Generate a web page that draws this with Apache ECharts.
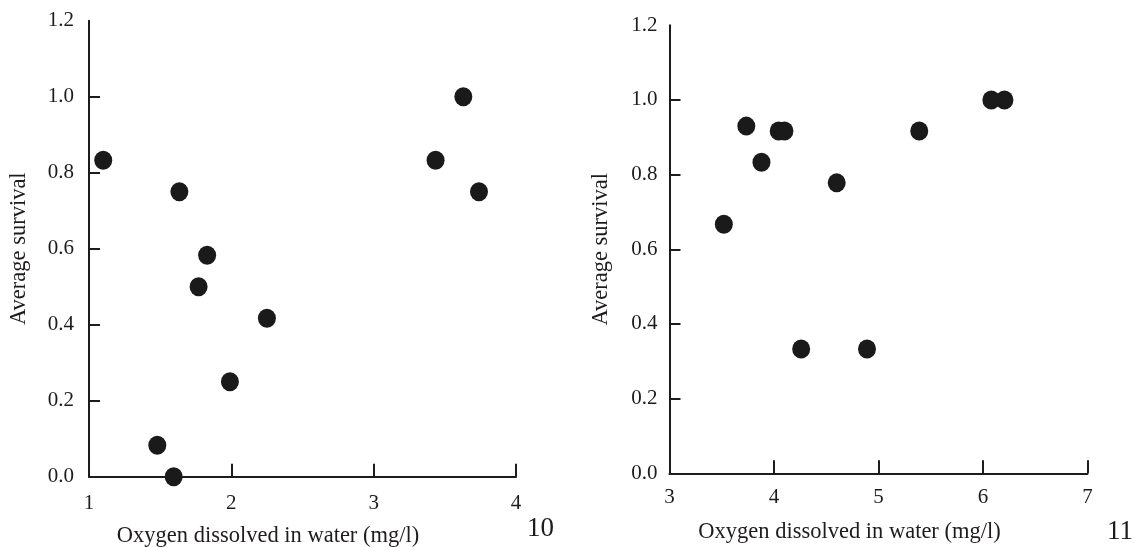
<!DOCTYPE html>
<html>
<head>
<meta charset="utf-8">
<script src="https://cdn.jsdelivr.net/npm/echarts@6/dist/echarts.min.js"></script>
<style>
  html, body { margin: 0; padding: 0; background: #fff; }
  #chart { width: 1135px; height: 547px; }
</style>
</head>
<body>
<div id="chart"></div>
<script>
// panel 10
const leftOxygen   = [1.10, 1.635, 1.83, 1.77, 2.25, 1.99, 1.48, 1.595, 3.435, 3.63, 3.74];
const leftSurvival = [0.833, 0.75, 0.583, 0.50, 0.417, 0.25, 0.083, 0.0, 0.833, 1.0, 0.75];
// panel 11
const rightOxygen   = [3.52, 3.735, 3.88, 4.045, 4.10, 4.60, 4.26, 4.89, 5.39, 6.08, 6.205];
const rightSurvival = [0.667, 0.93, 0.833, 0.917, 0.917, 0.778, 0.333, 0.333, 0.917, 1.0, 1.0];

const leftXRange  = [1, 4];
const rightXRange = [3, 7];
const yRange = [0, 1.2];
const yTickValues = [0.2, 0.4, 0.6, 0.8, 1.0];
const panelLabels = ['10', '11'];
const xTitle = 'Oxygen dissolved in water (mg/l)';
const yTitle = 'Average survival';

const ink = '#1f1b1c';
const serif = '"Liberation Serif", "DejaVu Serif", serif';

function xAxisFor(range, idx, shift, labelMargin, nameGap) {
    return {
        type: 'value',
        gridIndex: idx,
        min: range[0],
        max: range[1],
        interval: 1,
        splitLine: { show: false },
        axisLine: { show: true, onZero: false, lineStyle: { color: ink, width: 2 } },
        axisTick: { show: true, inside: true, length: 13, lineStyle: { color: ink, width: 2 } },
        axisLabel: { color: ink, fontFamily: serif, fontSize: 21, margin: labelMargin },
        name: xTitle,
        nameLocation: 'middle',
        nameGap: nameGap,
        nameTextStyle: { color: ink, fontFamily: serif, fontSize: 22.5, padding: [0, shift, 0, 0] }
    };
}

function yAxisFor(idx, labelMargin, nameGap) {
    return {
        type: 'value',
        gridIndex: idx,
        min: yRange[0],
        max: yRange[1],
        interval: 0.2,
        splitLine: { show: false },
        axisLine: { show: true, onZero: false, lineStyle: { color: ink, width: 2 } },
        axisTick: { show: true, inside: true, length: 11, customValues: yTickValues, lineStyle: { color: ink, width: 2 } },
        axisLabel: {
            color: ink, fontFamily: serif, fontSize: 21, margin: labelMargin,
            formatter: v => v.toFixed(1)
        },
        name: yTitle,
        nameLocation: 'middle',
        nameGap: nameGap,
        nameTextStyle: { color: ink, fontFamily: serif, fontSize: 22.5 }
    };
}

const chart = echarts.init(document.getElementById('chart'), null, { renderer: 'canvas' });
chart.setOption({
    animation: false,
    backgroundColor: '#fff',
    title: [
        { text: panelLabels[0], left: 527, top: 515, padding: 0,
          textStyle: { color: ink, fontFamily: serif, fontSize: 27, fontWeight: 'normal', lineHeight: 27 } },
        { text: panelLabels[1], left: 1107, top: 518, padding: 0,
          textStyle: { color: ink, fontFamily: serif, fontSize: 27, fontWeight: 'normal', lineHeight: 27 } }
    ],
    grid: [
        { left: 89, top: 20.7, width: 427, height: 456, outerBoundsMode: 'none' },
        { left: 669.5, top: 25.3, width: 418, height: 448, outerBoundsMode: 'none' }
    ],
    xAxis: [
        xAxisFor(leftXRange, 0, 69, 16, 48),
        xAxisFor(rightXRange, 1, 58, 14, 47)
    ],
    yAxis: [
        yAxisFor(0, 15, 58),
        yAxisFor(1, 12, 57)
    ],
    series: [
        {
            type: 'scatter',
            xAxisIndex: 0, yAxisIndex: 0,
            symbol: 'circle',
            symbolSize: [18, 19],
            itemStyle: { color: '#1a1a1a', opacity: 1 },
            data: leftOxygen.map((x, i) => [x, leftSurvival[i]])
        },
        {
            type: 'scatter',
            xAxisIndex: 1, yAxisIndex: 1,
            symbol: 'circle',
            symbolSize: [18, 19],
            itemStyle: { color: '#1a1a1a', opacity: 1 },
            data: rightOxygen.map((x, i) => [x, rightSurvival[i]])
        }
    ]
});
</script>
</body>
</html>
